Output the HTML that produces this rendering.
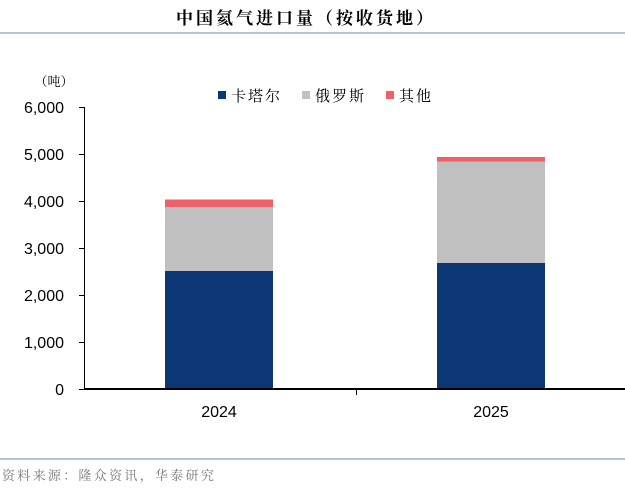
<!DOCTYPE html>
<html><head><meta charset="utf-8"><style>
body{margin:0;width:625px;height:489px;background:#fff;overflow:hidden}
svg{display:block}
</style></head><body>
<svg width="625" height="489" xmlns="http://www.w3.org/2000/svg">
<text x="306" y="24" text-anchor="middle" font-family="'Noto Serif CJK SC',serif" font-weight="bold" font-size="17" letter-spacing="3" fill="#000">中国氦气进口量（按收货地）</text>
<rect x="0" y="32" width="625" height="2" fill="#b4c4d4"/>
<text x="54" y="86" text-anchor="middle" font-family="'Noto Serif CJK SC',serif" font-size="13">（吨）</text>
<rect x="218" y="91" width="8" height="8" fill="#0d3674"/>
<text x="231" y="101" font-family="'Noto Serif CJK SC',serif" font-size="15" letter-spacing="2">卡塔尔</text>
<rect x="302" y="91" width="8" height="8" fill="#c0c0c0"/>
<text x="315" y="101" font-family="'Noto Serif CJK SC',serif" font-size="15" letter-spacing="2">俄罗斯</text>
<rect x="386" y="91" width="8" height="8" fill="#f0606a"/>
<text x="399" y="101" font-family="'Noto Serif CJK SC',serif" font-size="15" letter-spacing="2">其他</text>
<g font-family="'Liberation Sans',sans-serif" font-size="16" text-anchor="end" fill="#000">
<text x="64" y="113">6,000</text><text x="64" y="160">5,000</text><text x="64" y="207">4,000</text>
<text x="64" y="254">3,000</text><text x="64" y="301">2,000</text><text x="64" y="348">1,000</text><text x="64" y="395">0</text>
</g>
<g stroke="#000" stroke-width="1">
<line x1="84.5" y1="107" x2="84.5" y2="390"/>
<line x1="79" y1="107.5" x2="84" y2="107.5"/><line x1="79" y1="154.5" x2="84" y2="154.5"/>
<line x1="79" y1="201.5" x2="84" y2="201.5"/><line x1="79" y1="248.5" x2="84" y2="248.5"/>
<line x1="79" y1="295.5" x2="84" y2="295.5"/><line x1="79" y1="342.5" x2="84" y2="342.5"/>
<line x1="79" y1="389.5" x2="84" y2="389.5"/>
<line x1="356.5" y1="389" x2="356.5" y2="395"/>
</g>
<rect x="165" y="271" width="108" height="118" fill="#0d3674"/>
<rect x="165" y="207" width="108" height="64" fill="#c0c0c0"/>
<rect x="165" y="199.5" width="108" height="7.5" fill="#f0606a"/>
<rect x="437" y="263" width="108" height="126" fill="#0d3674"/>
<rect x="437" y="161.5" width="108" height="101.5" fill="#c0c0c0"/>
<rect x="437" y="157" width="108" height="4.5" fill="#f0606a"/>
<rect x="84" y="388" width="541" height="2" fill="#000"/>
<g font-family="'Liberation Sans',sans-serif" font-size="16" text-anchor="middle">
<text x="219" y="417">2024</text><text x="491" y="417">2025</text>
</g>
<rect x="0" y="458" width="625" height="2" fill="#b4c4d4"/>
<text x="2" y="480" font-family="'Noto Serif CJK SC',serif" font-size="13" fill="#777" letter-spacing="2.3">资料来源：隆众资讯，华泰研究</text>
</svg>
</body></html>
